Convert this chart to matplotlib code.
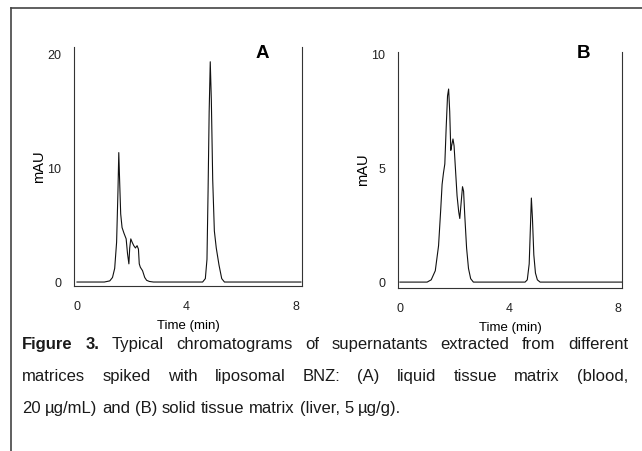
import matplotlib
matplotlib.use("Agg")
import matplotlib.pyplot as plt
from matplotlib.lines import Line2D

# chromatogram A: liquid tissue matrix (blood)
time_a = [0, 1.0, 1.2, 1.3, 1.38, 1.45, 1.5, 1.53, 1.56, 1.6, 1.65, 1.72, 1.8, 1.85,
          1.9, 1.93, 1.97, 2.02, 2.08, 2.14, 2.2, 2.25, 2.28, 2.32, 2.4, 2.48, 2.55,
          2.65, 2.8, 4.6, 4.7, 4.76, 4.8, 4.84, 4.88, 4.92, 4.97, 5.03, 5.1, 5.2,
          5.3, 5.4, 8.2]
signal_a = [0, 0, 0.1, 0.4, 1.2, 3.5, 8, 11.4, 9, 6, 4.8, 4.3, 3.8, 2.5,
            1.6, 3.0, 3.8, 3.5, 3.2, 3.0, 3.2, 2.9, 1.6, 1.3, 1.0, 0.4, 0.15,
            0.05, 0, 0, 0.3, 2, 8, 15, 19.4, 16, 9, 4.5, 3, 1.5,
            0.3, 0, 0]

# chromatogram B: solid tissue matrix (liver)
time_b = [0, 1.0, 1.15, 1.3, 1.42, 1.5, 1.55, 1.6, 1.65, 1.7, 1.75, 1.79, 1.83, 1.87,
          1.9, 1.95, 1.99, 2.05, 2.1, 2.16, 2.2, 2.25, 2.3, 2.34, 2.38, 2.45, 2.52,
          2.6, 2.7, 4.6, 4.68, 4.75, 4.8, 4.83, 4.87, 4.92, 4.98, 5.05, 5.15, 8.2]
signal_b = [0, 0, 0.1, 0.5, 1.6, 3.2, 4.3, 4.8, 5.2, 6.8, 8.2, 8.5, 7.5, 5.8,
            6.0, 6.3, 6.0, 4.8, 3.8, 3.1, 2.8, 3.5, 4.2, 4.0, 3.0, 1.5, 0.6,
            0.15, 0, 0, 0.1, 0.8, 2.6, 3.7, 2.8, 1.2, 0.4, 0.1, 0, 0]

xticks = [0, 4, 8]
yticks_a = [0, 10, 20]
yticks_b = [0, 5, 10]

caption_lines = [
    "Typical chromatograms of supernatants extracted from different",
    "matrices spiked with liposomal BNZ: (A) liquid tissue matrix (blood,",
    "20 \u00b5g/mL) and (B) solid tissue matrix (liver, 5 \u00b5g/g).",
]

W, H = 642, 451
plt.rcParams["font.family"] = ["Liberation Sans", "DejaVu Sans"]
fig = plt.figure(figsize=(W / 100, H / 100), dpi=100)


def px_axes(left, top, right, bottom):
    return fig.add_axes([left / W, 1 - bottom / H, (right - left) / W, (bottom - top) / H])


def draw_panel(ax, t, s, xlim, ylim, yticks, letter, letter_x):
    ax.plot(t, s, color="#111111", linewidth=0.8)
    ax.set_xlim(*xlim)
    ax.set_ylim(*ylim)
    ax.set_xticks(xticks)
    ax.set_yticks(yticks)
    ax.tick_params(length=0, labelsize=9, colors="#222222")
    ax.tick_params(axis="x", pad=11)
    ax.tick_params(axis="y", pad=9)
    ax.spines["top"].set_visible(False)
    for side in ["left", "right", "bottom"]:
        ax.spines[side].set_linewidth(0.8)
        ax.spines[side].set_color("#333333")
    ax.set_xlabel("Time (min)", fontsize=9.5, labelpad=4.5)
    ax.set_ylabel("mAU", fontsize=10.5, labelpad=1)
    fig.text(letter_x / W, 1 - 53 / H, letter, fontsize=13.5,
             fontweight="bold", ha="center", va="center")


ax_a = px_axes(74, 47, 302, 286)
draw_panel(ax_a, time_a, signal_a, (-0.11, 8.24), (-0.35, 20.7), yticks_a, "A", 262)
ax_b = px_axes(398, 52, 622, 288)
draw_panel(ax_b, time_b, signal_b, (-0.07, 8.16), (-0.26, 10.13), yticks_b, "B", 583)

# frame around the figure (top and left edges visible)
fig.add_artist(Line2D([11 / W, 1], [1 - 8 / H, 1 - 8 / H], color="#444444", linewidth=1.2))
fig.add_artist(Line2D([11 / W, 11 / W], [0, 1 - 8 / H], color="#444444", linewidth=1.2))

# justified caption
cap_font = ["Liberation Sans", "DejaVu Sans"]
cap_size = 12
x0, x1 = 22, 628
baseline_y = [349, 381, 413]
renderer = fig.canvas.get_renderer()


def place_words(words, y, justify):
    texts = []
    widths = []
    for w, bold in words:
        t = fig.text(0, 1 - y / H, w, fontsize=cap_size, family=cap_font,
                     fontweight="bold" if bold else "normal", va="baseline", ha="left",
                     color="#1a1a1a")
        texts.append(t)
        widths.append(t.get_window_extent(renderer).width)
    if justify and len(words) > 1:
        gap = (x1 - x0 - sum(widths)) / (len(words) - 1)
    else:
        gap = cap_size * 0.28 * 100 / 72
    x = x0
    for t, wd in zip(texts, widths):
        t.set_x(x / W)
        x += wd + gap


first = [("Figure", True), ("3.", True)] + [(w, False) for w in caption_lines[0].split()]
place_words(first, baseline_y[0], True)
place_words([(w, False) for w in caption_lines[1].split()], baseline_y[1], True)
place_words([(w, False) for w in caption_lines[2].split()], baseline_y[2], False)

fig.savefig("out.png", dpi=100)
